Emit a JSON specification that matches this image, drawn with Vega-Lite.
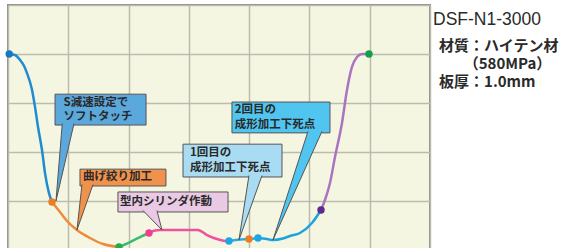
{
  "$schema": "https://vega.github.io/schema/vega-lite/v6.json",
  "width": 422,
  "height": 245,
  "autosize": "none",
  "padding": {"left": 8, "top": 5, "right": 145, "bottom": 0},
  "background": "white",
  "config": {
    "view": {"fill": "#f4f6e2", "stroke": "#8a8a8a", "strokeWidth": 2},
    "axis": {"grid": true, "gridColor": "#bcbcae", "gridWidth": 1.5, "labels": false, "ticks": false, "domain": false, "title": null}
  },
  "datasets": {
    "curve": [
      {"seg": "s1", "x": 0.2, "y": 40.0},
      {"seg": "s1", "x": 1.16, "y": 39.8},
      {"seg": "s1", "x": 1.99, "y": 38.8},
      {"seg": "s1", "x": 2.65, "y": 37.6},
      {"seg": "s1", "x": 3.15, "y": 36.1},
      {"seg": "s1", "x": 3.98, "y": 32.7},
      {"seg": "s1", "x": 4.48, "y": 29.2},
      {"seg": "s1", "x": 4.98, "y": 25.1},
      {"seg": "s1", "x": 5.64, "y": 20.4},
      {"seg": "s1", "x": 6.14, "y": 15.7},
      {"seg": "s1", "x": 6.8, "y": 11.6},
      {"seg": "s1", "x": 7.3, "y": 9.8},
      {"seg": "s2", "x": 7.3, "y": 9.8},
      {"seg": "s2", "x": 8.62, "y": 7.76},
      {"seg": "s2", "x": 9.79, "y": 5.92},
      {"seg": "s2", "x": 11.44, "y": 4.08},
      {"seg": "s2", "x": 13.6, "y": 2.45},
      {"seg": "s2", "x": 15.76, "y": 1.22},
      {"seg": "s2", "x": 18.41, "y": 0.61},
      {"seg": "s3", "x": 18.41, "y": 0.61},
      {"seg": "s3", "x": 20.24, "y": 1.63},
      {"seg": "s3", "x": 21.9, "y": 2.65},
      {"seg": "s3", "x": 23.39, "y": 3.47},
      {"seg": "s4", "x": 23.39, "y": 3.47},
      {"seg": "s4", "x": 24.38, "y": 3.98},
      {"seg": "s4", "x": 25.2, "y": 4.08},
      {"seg": "s4", "x": 31.5, "y": 4.08},
      {"seg": "s4", "x": 33.0, "y": 3.06},
      {"seg": "s4", "x": 34.67, "y": 2.24},
      {"seg": "s4", "x": 36.0, "y": 1.84},
      {"seg": "s4", "x": 36.65, "y": 1.84},
      {"seg": "s5", "x": 36.65, "y": 1.84},
      {"seg": "s5", "x": 38.5, "y": 2.14},
      {"seg": "s5", "x": 39.97, "y": 2.24},
      {"seg": "s5", "x": 41.47, "y": 2.45},
      {"seg": "s6", "x": 41.47, "y": 2.45},
      {"seg": "s6", "x": 42.96, "y": 2.24},
      {"seg": "s6", "x": 43.95, "y": 2.04},
      {"seg": "s6", "x": 45.6, "y": 2.35},
      {"seg": "s6", "x": 46.77, "y": 2.86},
      {"seg": "s6", "x": 48.43, "y": 3.47},
      {"seg": "s6", "x": 50.42, "y": 5.51},
      {"seg": "s6", "x": 51.92, "y": 8.16},
      {"seg": "s7", "x": 51.92, "y": 8.16},
      {"seg": "s7", "x": 52.58, "y": 10.2},
      {"seg": "s7", "x": 53.41, "y": 13.67},
      {"seg": "s7", "x": 54.24, "y": 18.98},
      {"seg": "s7", "x": 55.4, "y": 25.92},
      {"seg": "s7", "x": 56.23, "y": 32.65},
      {"seg": "s7", "x": 57.06, "y": 37.35},
      {"seg": "s7", "x": 57.89, "y": 39.39},
      {"seg": "s7", "x": 58.72, "y": 40.0},
      {"seg": "s7", "x": 59.88, "y": 40.0}
    ],
    "dots": [
      {"dot": "d1", "x": 0.2, "y": 40.0},
      {"dot": "d2", "x": 7.3, "y": 9.8},
      {"dot": "d3", "x": 18.41, "y": 0.61},
      {"dot": "d4", "x": 23.39, "y": 3.47},
      {"dot": "d5", "x": 36.65, "y": 1.84},
      {"dot": "d2", "x": 39.97, "y": 2.24},
      {"dot": "d5", "x": 41.47, "y": 2.45},
      {"dot": "d6", "x": 51.92, "y": 8.16},
      {"dot": "d7", "x": 59.88, "y": 40.0}
    ],
    "boxes": [
      {"box": "b1", "x": 7.8, "x2": 22.9, "y": 25.5, "y2": 31.8},
      {"box": "b2", "x": 11.94, "x2": 26.2, "y": 13.06, "y2": 16.5},
      {"box": "b3", "x": 18.24, "x2": 36.5, "y": 7.76, "y2": 11.84},
      {"box": "b4", "x": 29.03, "x2": 45.45, "y": 14.9, "y2": 21.6},
      {"box": "b5", "x": 37.15, "x2": 53.41, "y": 23.9, "y2": 30.2}
    ],
    "pointers": [
      {"box": "b1", "o": 1, "x": 9.0, "y": 25.8},
      {"box": "b1", "o": 2, "x": 7.96, "y": 10.0},
      {"box": "b1", "o": 3, "x": 10.95, "y": 25.8},
      {"box": "b2", "o": 1, "x": 12.27, "y": 13.36},
      {"box": "b2", "o": 2, "x": 11.44, "y": 4.08},
      {"box": "b2", "o": 3, "x": 14.1, "y": 13.36},
      {"box": "b3", "o": 1, "x": 22.39, "y": 8.06},
      {"box": "b3", "o": 2, "x": 25.54, "y": 4.08},
      {"box": "b3", "o": 3, "x": 24.71, "y": 8.06},
      {"box": "b4", "o": 1, "x": 39.97, "y": 15.2},
      {"box": "b4", "o": 2, "x": 38.31, "y": 2.04},
      {"box": "b4", "o": 3, "x": 42.13, "y": 15.2},
      {"box": "b5", "o": 1, "x": 49.76, "y": 24.2},
      {"box": "b5", "o": 2, "x": 43.95, "y": 2.04},
      {"box": "b5", "o": 3, "x": 52.08, "y": 24.2}
    ],
    "labels": [
      {"x": 9.2, "y": 30.1, "t": "S減速設定で"},
      {"x": 9.2, "y": 27.1, "t": "ソフトタッチ"},
      {"x": 12.44, "y": 14.8, "t": "曲げ絞り加工"},
      {"x": 18.58, "y": 9.8, "t": "型内シリンダ作動"},
      {"x": 30.19, "y": 19.8, "t": "1回目の"},
      {"x": 30.19, "y": 16.73, "t": "成形加工下死点"},
      {"x": 37.6, "y": 28.57, "t": "2回目の"},
      {"x": 37.6, "y": 25.5, "t": "成形加工下死点"}
    ],
    "notes": [
      {"x": 71.5, "y": 41.6, "t": "材質：ハイテン材"},
      {"x": 75.6, "y": 37.96, "t": "（580MPa）"},
      {"x": 71.5, "y": 34.3, "t": "板厚：1.0mm"}
    ],
    "title": [
      {"x": 70.5, "y": 46.9, "t": "DSF-N1-3000"}
    ]
  },
  "encoding": {
    "x": {"field": "x", "type": "quantitative", "scale": {"domain": [0, 70], "nice": false, "zero": false}, "axis": {"values": [0, 10, 20, 30, 40, 50, 60, 70]}},
    "y": {"field": "y", "type": "quantitative", "scale": {"domain": [0, 50], "nice": false, "zero": false}, "axis": {"values": [0, 10, 20, 30, 40, 50]}}
  },
  "layer": [
    {
      "data": {"name": "curve"},
      "mark": {"type": "line", "interpolate": "monotone", "strokeWidth": 2.5, "clip": true},
      "encoding": {
        "color": {"field": "seg", "type": "nominal", "legend": null,
          "scale": {"domain": ["s1", "s2", "s3", "s4", "s5", "s6", "s7"],
                    "range": ["#1f8bd0", "#ee8a3a", "#3dba6e", "#f0519c", "#25aee5", "#1ea3dc", "#aa74c0"]}}
      }
    },
    {
      "data": {"name": "dots"},
      "mark": {"type": "circle", "size": 55, "opacity": 1},
      "encoding": {
        "fill": {"field": "dot", "type": "nominal", "legend": null,
          "scale": {"domain": ["d1", "d2", "d3", "d4", "d5", "d6", "d7", "b1", "b2", "b3", "b4", "b5"],
                    "range": ["#1677c4", "#ec7d22", "#22ad4a", "#ee3f92", "#1ea6e3", "#5a2a8c", "#12a04a", "#5ba8dd", "#f0914c", "#e9c9e3", "#a9dcf3", "#4fc5f0"]}}
      }
    },
    {
      "data": {"name": "boxes"},
      "mark": {"type": "rect", "stroke": "#555555", "strokeWidth": 1},
      "encoding": {
        "x2": {"field": "x2"},
        "y2": {"field": "y2"},
        "fill": {"field": "box", "type": "nominal", "legend": null}
      }
    },
    {
      "data": {"name": "pointers"},
      "mark": {"type": "line", "stroke": "#555555", "strokeWidth": 1, "interpolate": "linear"},
      "encoding": {
        "fill": {"field": "box", "type": "nominal", "legend": null},
        "detail": {"field": "box"},
        "order": {"field": "o", "type": "quantitative"}
      }
    },
    {
      "data": {"name": "labels"},
      "mark": {"type": "text", "align": "left", "baseline": "middle", "font": "Noto Sans CJK JP", "fontSize": 11.5, "fontWeight": "bold", "color": "#2a2a2a"},
      "encoding": {"text": {"field": "t"}}
    },
    {
      "data": {"name": "notes"},
      "mark": {"type": "text", "align": "left", "baseline": "middle", "font": "Noto Sans CJK JP", "fontSize": 15, "fontWeight": "bold", "color": "#2a2a2a", "clip": false},
      "encoding": {"text": {"field": "t"}}
    },
    {
      "data": {"name": "title"},
      "mark": {"type": "text", "align": "left", "baseline": "middle", "font": "Liberation Sans", "fontSize": 17.5, "color": "#2a2a2a", "clip": false},
      "encoding": {"text": {"field": "t"}}
    }
  ]
}
